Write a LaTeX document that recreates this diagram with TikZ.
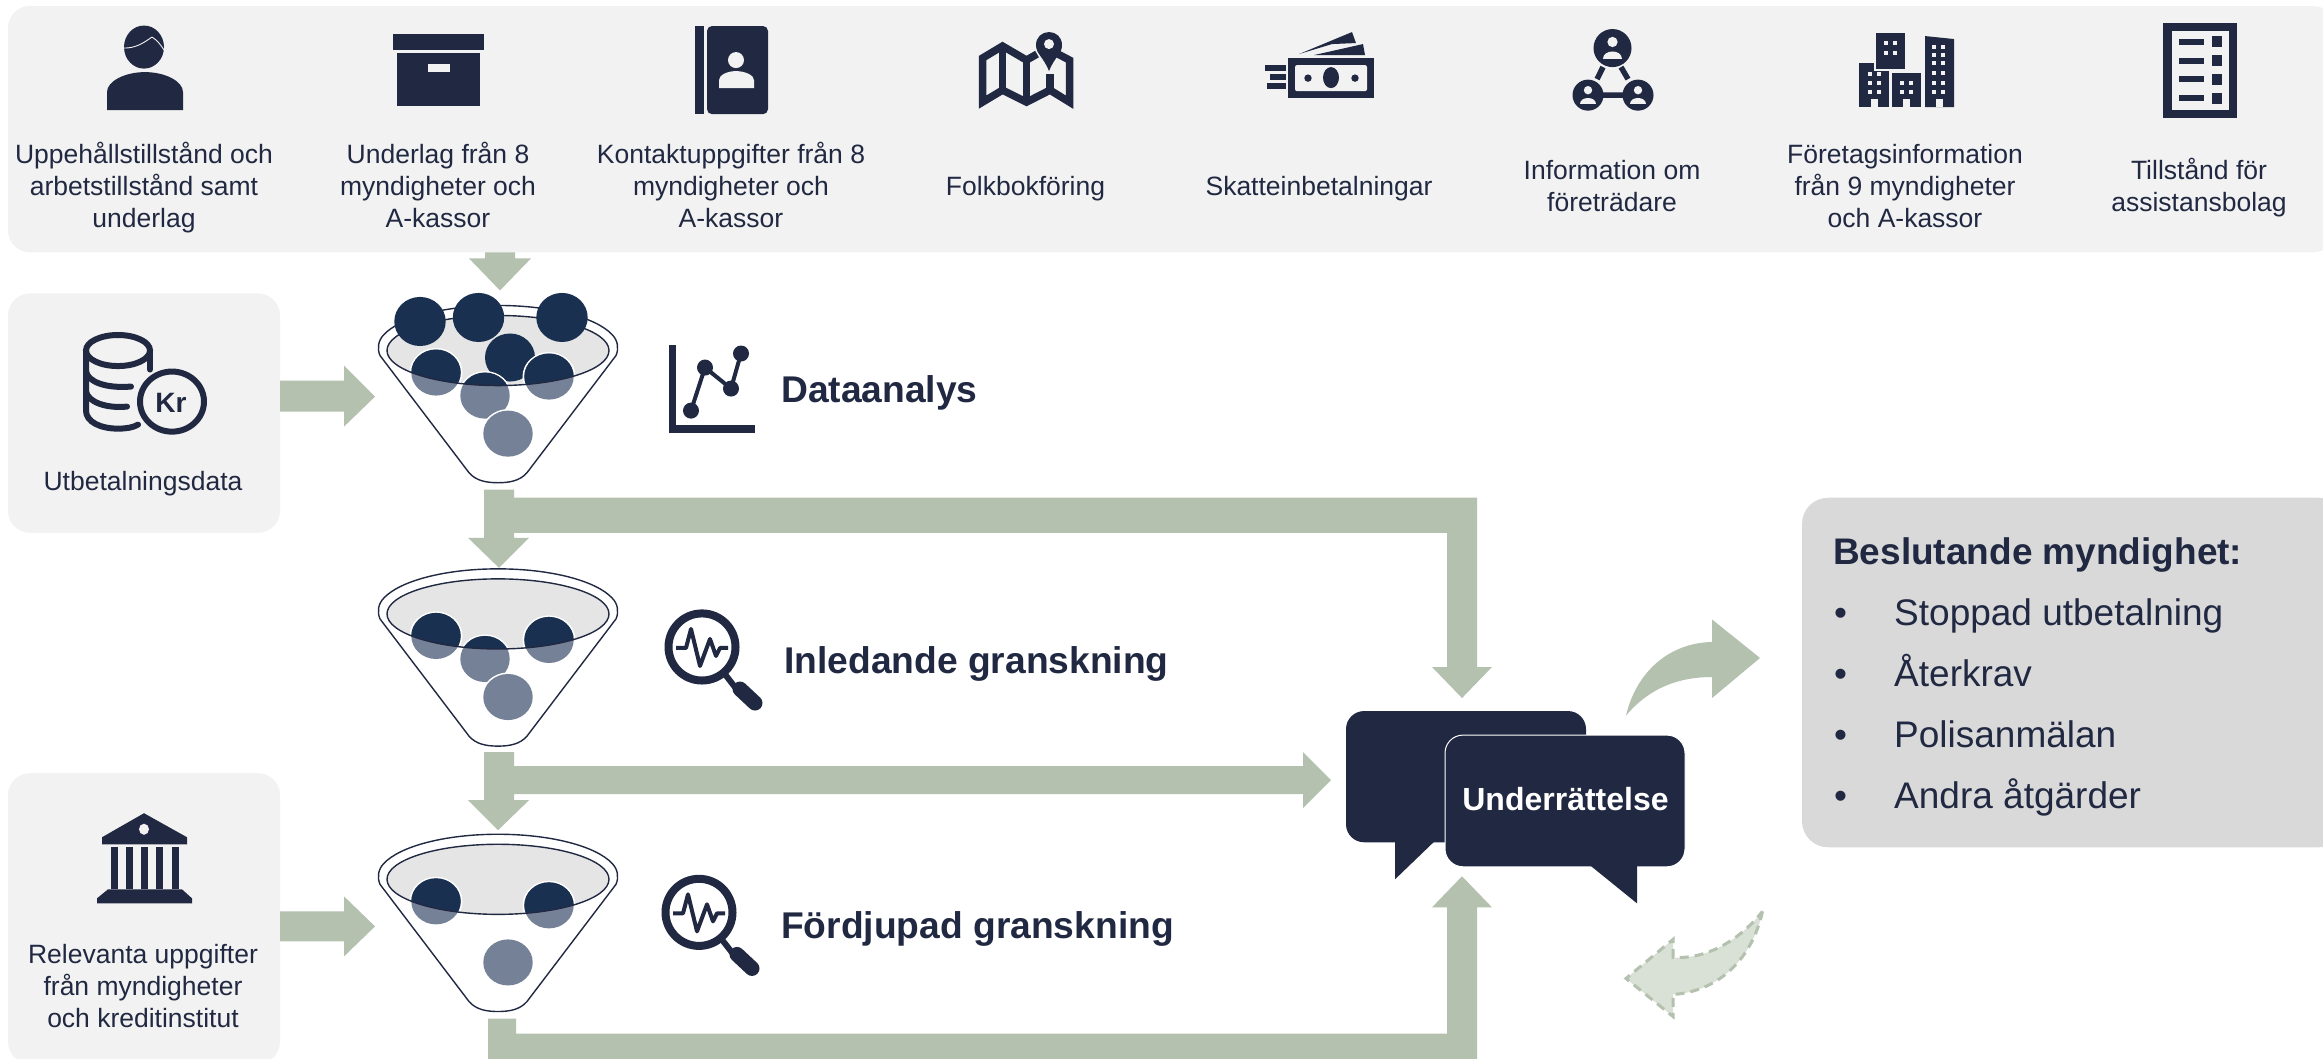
\documentclass[tikz,border=0pt]{standalone}
\usepackage{fontspec}
\setmainfont{Liberation Sans}
\definecolor{navy}{HTML}{212942}
\definecolor{panel}{HTML}{F2F2F2}
\definecolor{sage}{HTML}{B3C1AE}
\definecolor{sagelight}{HTML}{D9E0D6}
\definecolor{balldark}{HTML}{1A3050}
\definecolor{ballsoft}{HTML}{758196}
\definecolor{bowl}{HTML}{E5E5E5}
\definecolor{decide}{HTML}{D9D9D9}
\tikzset{
  panelbox/.style={fill=panel,rounded corners=22pt},
  lbl/.style={inner sep=0pt,align=center,text=navy,font=\fontsize{26.5}{32}\selectfont},
  title/.style={inner sep=0pt,anchor=base west,text=navy,font=\fontsize{37.2}{44}\selectfont\bfseries},
  itemtxt/.style={inner sep=0pt,anchor=base west,text=navy,font=\fontsize{37}{44}\selectfont},
  blockarrow/.style={fill=sage},
  ink/.style={fill=navy},
  hole/.style={fill=panel},
  funline/.style={draw=navy,line width=1.4pt}
}
\newcommand{\ua}{\rule{0pt}{24pt}}
\newcommand{\ub}{\rule[-8pt]{0pt}{8pt}}
\newcommand{\fball}[2]{%
  \fill[white] (#1,#2) ellipse [x radius=26.5,y radius=24.5];
  \fill[ballsoft] (#1,#2) ellipse [x radius=24.7,y radius=23];
  \begin{scope}\clip (498,350) ellipse [x radius=111,y radius=35];
  \fill[balldark] (#1,#2) ellipse [x radius=24.7,y radius=23];\end{scope}}
\newcommand{\fbowl}{%
  \draw[funline,fill=white] (380,355) .. controls (377,348) and (378,340) .. (384,334)
    .. controls (400,317) and (445,305) .. (498,305)
    .. controls (551,305) and (596,317) .. (612,334)
    .. controls (618,340) and (619,348) .. (616,355)
    -- (527,472) .. controls (520,480) and (510,482) .. (498,482)
    .. controls (486,482) and (476,480) .. (469,472) -- cycle;
  \fill[bowl] (498,350) ellipse [x radius=111,y radius=35];}
\newcommand{\frim}{\draw[funline] (498,350) ellipse [x radius=111,y radius=35];}
\newcommand{\lens}{%
  \draw[navy,line width=6pt] (724,672) -- (738,690);
  \draw[navy,line width=15pt,line cap=round] (740,688) -- (755,702);
  \draw[navy,line width=8pt,fill=white] (702,646) ellipse [x radius=33.5,y radius=33.5];
  \draw[navy,line width=4pt,line join=round] (676,647) -- (686,647) -- (691,628) -- (700,665) -- (710,638) -- (716,655) -- (720,647) -- (728,647);}
\newcommand{\netperson}[3]{%
  \fill[ink] (#1,#2) circle [radius=#3];
  \fill[hole] (#1,#2-#3*0.32) circle [radius=#3*0.27];
  \fill[hole] (#1-#3*0.5,#2+#3*0.55) .. controls (#1-#3*0.5,#2+#3*0.05) and (#1+#3*0.5,#2+#3*0.05) .. (#1+#3*0.5,#2+#3*0.55) -- cycle;}
\begin{document}
\begin{tikzpicture}[x=1pt,y=-1.0015pt]
\useasboundingbox (0pt,0pt) rectangle (2323pt,-1059pt);
\clip (0pt,0pt) rectangle (2323pt,-1059pt);
\fill[white] (0pt,0pt) rectangle (2323pt,-1059pt);

% panels
\fill[panelbox] (8,6) rectangle (2335,252);
\fill[panelbox] (8,293) rectangle (280,532);
\fill[panelbox] (8,772) rectangle (280,1062);
\fill[decide,rounded corners=26pt] (1802,497) rectangle (2345,846);

% block arrows
\fill[blockarrow] (485,252) -- (515,252) -- (515,258) -- (531,258) -- (500,290) -- (469,258) -- (485,258) -- cycle;
\fill[blockarrow] (280,380) -- (344,380) -- (344,365) -- (375,396) -- (344,426) -- (344,411) -- (280,411) -- cycle;
\fill[blockarrow] (280,910) -- (344,910) -- (344,895) -- (375,925) -- (344,955) -- (344,940) -- (280,940) -- cycle;
\fill[blockarrow] (484,489) -- (514,489) -- (514,497) -- (1477,497) -- (1477,666) -- (1492,666) -- (1462,697) -- (1432,666) -- (1447,666) -- (1447,532) -- (514,532) -- (514,537) -- (529,537) -- (499,567) -- (468,537) -- (484,537) -- cycle;
\fill[blockarrow] (484,751) -- (514,751) -- (514,765) -- (1303,765) -- (1303,751) -- (1331,779) -- (1303,807) -- (1303,793) -- (514,793) -- (514,799) -- (529,799) -- (498,829) -- (468,799) -- (484,799) -- cycle;
\fill[blockarrow] (488,1017) -- (516,1017) -- (516,1032) -- (1447,1032) -- (1447,906) -- (1432,906) -- (1462,875) -- (1492,906) -- (1477,906) -- (1477,1062) -- (488,1062) -- cycle;

% funnel 1
\begin{scope}
\fbowl
\fill[balldark] (510,357) ellipse [x radius=25,y radius=24];
\fball{436}{372}\fball{549}{376}\fball{485}{395}
\fill[white] (508,433) ellipse [x radius=26.5,y radius=24.5];
\fill[ballsoft] (508,433) ellipse [x radius=24.7,y radius=23];
\frim
\fill[balldark] (420,321) ellipse [x radius=25.7,y radius=24.5];
\fill[balldark] (478.5,317) ellipse [x radius=25.7,y radius=24.5];
\fill[balldark] (562,317) ellipse [x radius=25.7,y radius=24.5];
\end{scope}
% funnel 2
\begin{scope}[shift={(0,263)}]
\fbowl
\fball{436}{372}\fball{549}{376}\fball{485}{395}
\fill[white] (508,433) ellipse [x radius=26.5,y radius=24.5];
\fill[ballsoft] (508,433) ellipse [x radius=24.7,y radius=23];
\frim
\end{scope}
% funnel 3
\begin{scope}[shift={(0,528)}]
\fbowl
\fball{436}{372}\fball{549}{376}
\fill[ballsoft] (508,433) ellipse [x radius=24.7,y radius=23];
\frim
\end{scope}

% person
\fill[ink] (144,47) ellipse [x radius=20,y radius=21.5];
\draw[panel,line width=0.9pt] (124,48) .. controls (135,48) and (142,44) .. (152,37) .. controls (157,40) and (161,45) .. (164,50);
\fill[ink] (107,110) -- (107,92) .. controls (107,81) and (125,72) .. (145,72) .. controls (165,72) and (183,81) .. (183,92) -- (183,110) -- cycle;
% box
\fill[ink] (393,34) rectangle (484,50);
\fill[ink] (397,53) rectangle (480,106);
\fill[hole] (427.5,64) rectangle (450,72);
% contact book
\fill[ink] (695,26) rectangle (704,114);
\fill[ink,rounded corners=5pt] (707,26) rectangle (768,114);
\fill[hole] (736,60) ellipse [x radius=8,y radius=8];
\fill[hole] (719,88) -- (719,80) .. controls (719,75) and (727,71) .. (736,71) .. controls (745,71) and (754,75) .. (754,80) -- (754,88) -- cycle;
% map
\draw[navy,line width=7.5pt,miter limit=6] (1058,54) -- (1069.5,60) -- (1069.5,102) -- (1050,90) -- (1026.5,102) -- (1002.5,90) -- (982.5,102) -- (982.5,58) -- (1002.5,46) -- (1026.5,60) -- (1037,54);
\draw[navy,line width=7.5pt] (1002.5,46) -- (1002.5,90) (1026.5,60) -- (1026.5,102) (1050,74) -- (1050,90);
\fill[ink] (1049,71) .. controls (1043,56) and (1036,54) .. (1036,45) .. controls (1036,37) and (1042,32) .. (1049,32) .. controls (1056,32) and (1062,37) .. (1062,45) .. controls (1062,54) and (1055,56) .. (1049,71) -- cycle;
\fill[hole] (1049,44) circle [radius=5];
% money
\fill[ink] (1288,58) rectangle (1374,98);
\fill[hole,rounded corners=2pt] (1295,65) rectangle (1367,91);
\fill[ink] (1331,77.5) ellipse [x radius=8,y radius=10.5];
\fill[ink] (1308,78) circle [radius=3.7];
\fill[ink] (1355,78) circle [radius=3.7];
\fill[ink] (1265,65) rectangle (1286,71);
\fill[ink] (1270,74) rectangle (1286,80);
\fill[ink] (1267,83) rectangle (1286,89);
\fill[ink] (1299,54) -- (1352,32) -- (1356,43) -- (1332,44) -- cycle;
\fill[ink] (1314,55) -- (1363,44) -- (1365,55) -- cycle;
% network
\draw[navy,line width=5.5pt] (1603,67) -- (1597,79) (1621,67) -- (1628,79) (1603,95) -- (1623,95);
\netperson{1612.5}{48}{19}
\netperson{1588}{95}{15.5}
\netperson{1638}{95}{15.5}
% buildings
\fill[ink] (1859,63) rectangle (1889,107);
\fill[panel] (1874,60) rectangle (1907,71);
\fill[ink] (1876,33) rectangle (1905,69);
\fill[ink] (1892,73) rectangle (1921,107);
\fill[ink] (1925,36) -- (1954,39) -- (1954,107) -- (1925,107) -- cycle;
\foreach \wx/\wy in {1870/74,1879/74,1870/83,1879/83,1870/92,1879/92,1886/43,1895/43,1886/53,1895/53,1902/83,1911/83,1902/92,1911/92,1934/47,1943/47,1934/55,1943/55,1934/63,1943/63,1934/73,1943/73,1934/83,1943/83,1934/92,1943/92}
  \fill[hole] (\wx-2,\wy-2) rectangle (\wx+2,\wy+2);
\foreach \dx in {1874,1906.5,1939.5} \fill[hole] (\dx-3.5,99) rectangle (\dx+3.5,107);
% list document
\fill[ink] (2163,23) rectangle (2237,118);
\fill[hole] (2172,31) rectangle (2229,110);
\foreach \ry in {41.5,60.5,79,98} {
  \fill[ink] (2179,\ry-3) rectangle (2203.5,\ry+3);
  \fill[ink] (2212,\ry-5.5) rectangle (2222,\ry+5.5);}
% database and coin
\draw[navy,line width=6pt,line cap=round] (118,350) ellipse [x radius=32,y radius=15.5];
\draw[navy,line width=6pt,line cap=round] (86,350) -- (86,410) .. controls (86,421) and (100,428) .. (118,428) .. controls (126,428) and (133,427) .. (138,424);
\draw[navy,line width=6pt,line cap=round] (150,350) -- (150,369);
\draw[navy,line width=6pt,line cap=round] (86,371) .. controls (88,381) and (105,388) .. (131,386);
\draw[navy,line width=6pt,line cap=round] (86,391) .. controls (88,401) and (105,408) .. (127,406);
\draw[navy,line width=6pt,fill=panel] (172,401) ellipse [x radius=32,y radius=30];
\node[inner sep=0pt,text=navy,font=\fontsize{28}{32}\selectfont\bfseries] (kr) at (171,402) {Kr};
% bank
\fill[ink] (144,812) -- (187,836) -- (187,843) -- (102,843) -- (102,836) -- cycle;
\fill[hole] (144,828) ellipse [x radius=5,y radius=5.5];
\foreach \cx in {111,126,141,156,171.5} \fill[ink] (\cx,846) rectangle (\cx+7,888);
\fill[ink] (108,888) -- (182,888) -- (192,897) -- (192,902) -- (97,902) -- (97,897) -- cycle;
% chart
\fill[ink] (669,344) rectangle (676,432);
\fill[ink] (669,424) rectangle (755,432);
\draw[navy,line width=4pt] (691,410) -- (705,367) -- (731,388) -- (741,353);
\foreach \px/\py in {691/410,705/367,731/388,741/353} \fill[ink] (\px,\py) circle [radius=8];
% magnifiers
\lens
\begin{scope}[shift={(-3,265)}]\lens\end{scope}

% top labels
\node[lbl] (l1) at (144,187) {\ua Uppehållstillstånd och\\arbetstillstånd samt\\underlag\ub};
\node[lbl] (l2) at (438,187) {\ua Underlag från 8\\myndigheter och\\A-kassor\ub};
\node[lbl] (l3) at (731,187) {\ua Kontaktuppgifter från 8\\myndigheter och\\A-kassor\ub};
\node[lbl] (l4) at (1025.5,187) {\ua Folkbokföring\ub};
\node[lbl] (l5) at (1319,187) {\ua Skatteinbetalningar\ub};
\node[lbl] (l6) at (1612,187) {\ua Information om\\företrädare\ub};
\node[lbl] (l7) at (1905,187) {\ua Företagsinformation\\från 9 myndigheter\\och A-kassor\ub};
\node[lbl] (l8) at (2199,187) {\ua Tillstånd för\\assistansbolag\ub};
\node[lbl] (l9) at (143,482) {\ua Utbetalningsdata\ub};
\node[lbl] (l10) at (143,986) {\ua Relevanta uppgifter\\från myndigheter\\och kreditinstitut\ub};

% stage titles
\node[title] (t1) at (781,402) {Dataanalys};
\node[title] (t2) at (784,672) {Inledande granskning};
\node[title] (t3) at (781,937) {Fördjupad granskning};

% notice bubbles
\fill[ink,rounded corners=18pt] (1346,710) rectangle (1586,841);
\fill[ink] (1395,830) -- (1395,878) -- (1445,830) -- cycle;
\draw[white,line width=1pt,fill=navy,rounded corners=18pt] (1445,734) rectangle (1685,865.5);
\fill[ink] (1590,864) -- (1637,902) -- (1637,864) -- cycle;
\node[inner sep=0pt,text=white,font=\fontsize{32}{40}\selectfont\bfseries] (u) at (1565.5,798) {Underrättelse};

% curved arrows
\fill[blockarrow] (1626,714.5) .. controls (1636,672) and (1668,642) .. (1712,641) -- (1712,618.5) -- (1760,657) -- (1712,697) -- (1712,676) .. controls (1680,676) and (1650,686) .. (1626,714.5) -- cycle;
\draw[sage,line width=3pt,dash pattern=on 9pt off 6pt,fill=sagelight] (1762.5,910) .. controls (1752,958) and (1718,990) .. (1673,993) -- (1673,1015) -- (1626,977) -- (1673,938) -- (1673,956) .. controls (1708,958) and (1740,938) .. (1762.5,910) -- cycle;

% decision text
\node[title,font=\fontsize{37}{44}\selectfont\bfseries] (d0) at (1833,564) {Beslutande myndighet:};
\foreach \n/\by/\txt in {1/625/Stoppad utbetalning,2/685/Återkrav,3/746/Polisanmälan,4/807/Andra åtgärder} {
  \node[itemtxt] (db\n) at (1834,\by) {•};
  \node[itemtxt] (di\n) at (1894,\by) {\txt};
}
\end{tikzpicture}
\end{document}
